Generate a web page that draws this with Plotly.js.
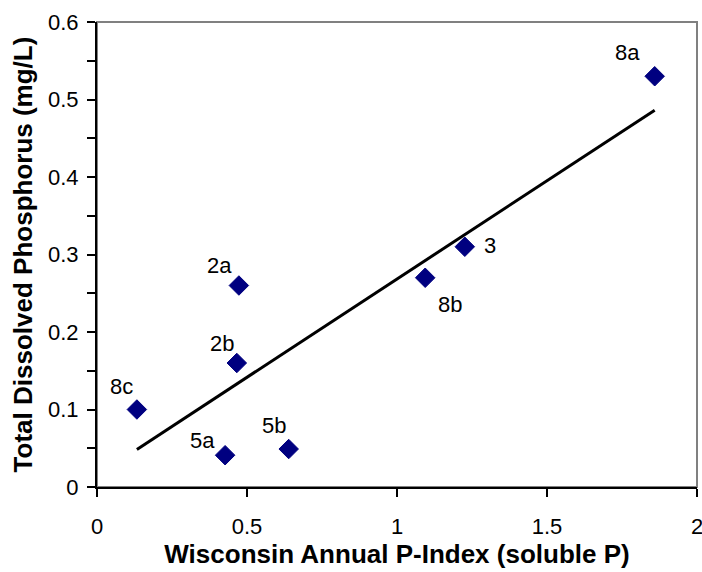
<!DOCTYPE html>
<html>
<head>
<meta charset="utf-8">
<script src="https://cdn.plot.ly/plotly-3.0.1.min.js"></script>
<style>html,body{margin:0;padding:0;background:#fff;}#chart{width:702px;height:572px;}</style>
</head>
<body>
<div id="chart"></div>
<script>
// Data
const siteLabels = ["8a", "3", "8b", "2a", "2b", "8c", "5a", "5b"];
const pIndex     = [1.859, 1.226, 1.094, 0.473, 0.466, 0.133, 0.427, 0.639];
const tdp        = [0.530, 0.310, 0.270, 0.260, 0.160, 0.100, 0.041, 0.049];
const xTicks = [0, 0.5, 1, 1.5, 2];
const yTicks = [0, 0.1, 0.2, 0.3, 0.4, 0.5, 0.6];

// label placement (pixel shifts)
const labelShift = {
  "8a": [-27, 24], "3": [25, 1], "8b": [25, -27], "2a": [-19, 20],
  "2b": [-15, 20], "8c": [-15, 23], "5a": [-23, 15], "5b": [-15, 24]
};

// least-squares trend line from the data
const n = pIndex.length;
const mx = pIndex.reduce((a, b) => a + b, 0) / n;
const my = tdp.reduce((a, b) => a + b, 0) / n;
let sxy = 0, sxx = 0;
for (let i = 0; i < n; i++) { sxy += (pIndex[i] - mx) * (tdp[i] - my); sxx += (pIndex[i] - mx) ** 2; }
const slope = sxy / sxx, icpt = my - slope * mx;
const xmin = Math.min(...pIndex), xmax = Math.max(...pIndex);
const trendX = [xmin, xmax];
const trendY = trendX.map(v => icpt + slope * v);

const fam = "Liberation Sans, Arial, sans-serif";
const font = {family: fam, size: 22, color: "#000"};
const titleFont = {family: fam, size: 26, color: "#000"};

const traces = [
  {x: trendX, y: trendY, mode: "lines", line: {color: "#000", width: 3}, hoverinfo: "skip"},
  {x: pIndex, y: tdp, mode: "markers", text: siteLabels,
   marker: {symbol: "diamond", size: 15, color: "#000080", line: {color: "#000080", width: 1}}}
];

const annotations = siteLabels.map((s, i) => ({
  x: pIndex[i], y: tdp[i], text: s, showarrow: false,
  xshift: labelShift[s][0], yshift: labelShift[s][1], font: font
}));

const layout = {
  width: 702, height: 572,
  margin: {l: 97, r: 5, t: 22, b: 85},
  paper_bgcolor: "#fff", plot_bgcolor: "#fff",
  showlegend: false,
  font: font,
  xaxis: {
    range: [0, 2], tickvals: xTicks, showgrid: false, zeroline: false,
    showline: true, linecolor: "#000", linewidth: 2,
    ticks: "outside", ticklen: 8, tickwidth: 2, tickcolor: "#000",
    ticklabelstandoff: 11, ticklabeloverflow: "allow", tickfont: font, automargin: false,
    title: {text: "<b>Wisconsin Annual P-Index (soluble P)</b>", font: titleFont, standoff: 6}
  },
  yaxis: {
    range: [0, 0.6], tickvals: yTicks, showgrid: false, zeroline: false,
    showline: true, linecolor: "#000", linewidth: 2,
    ticks: "outside", ticklen: 8, tickwidth: 2, tickcolor: "#000",
    ticklabelstandoff: 4, ticklabeloverflow: "allow", tickfont: font, automargin: false,
    minor: {dtick: 0.05, ticks: "outside", ticklen: 8, tickwidth: 2, tickcolor: "#000"},
    title: {text: "<b>Total Dissolved Phosphorus (mg/L)</b>", font: titleFont, standoff: 8}
  },
  shapes: [{type: "rect", xref: "paper", yref: "paper", x0: 0, x1: 1, y0: 0, y1: 1,
            line: {color: "#808080", width: 2}, layer: "below"}],
  annotations: annotations
};

Plotly.newPlot("chart", traces, layout, {displayModeBar: false, staticPlot: true});
</script>
</body>
</html>
